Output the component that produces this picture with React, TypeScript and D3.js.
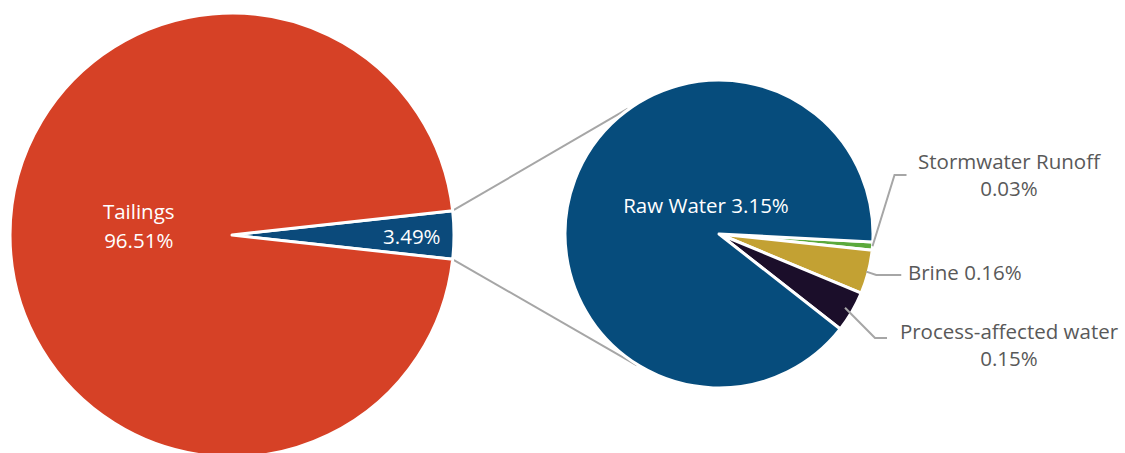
import React from "react";
import * as d3 from "d3";

const mainCategories = ["Other", "Tailings"];
const mainValues = [3.49, 96.51];
const mainColors = ["#0B4A7B", "#D64126"];

const subCategories = ["Stormwater Runoff", "Brine", "Process-affected water", "Raw Water"];
const subValues = [0.03, 0.16, 0.15, 3.15];
const subColors = ["#5BA93C", "#C3A133", "#1B0E2A", "#064C7C"];

const W = 1125;
const H = 453;
const FONT = "'Open Sans', sans-serif";
const FS = 20.5;
const GRAY = "#595959";
const LINE = "#A6A6A6";

export default function App() {
  const c1 = { x: 232, y: 235 };
  const r1 = 222;
  const c2 = { x: 719, y: 234 };
  const r2 = 154;

  const otherFrac = mainValues[0] / d3.sum(mainValues);
  const half = Math.PI * otherFrac;
  const mainPie = d3
    .pie<number>()
    .sort(null)
    .startAngle(Math.PI / 2 - half)
    .endAngle(Math.PI / 2 - half + 2 * Math.PI);
  const mainArcs = mainPie(mainValues);
  const arc1 = d3.arc<d3.PieArcDatum<number>>().innerRadius(0).outerRadius(r1);

  const subStart = Math.PI / 2 + (3 * Math.PI) / 180;
  const subPie = d3
    .pie<number>()
    .sort(null)
    .startAngle(subStart)
    .endAngle(subStart + 2 * Math.PI);
  const subArcs = subPie(subValues);
  const arc2 = d3.arc<d3.PieArcDatum<number>>().innerRadius(0).outerRadius(r2);

  const pt = (c: { x: number; y: number }, r: number, a: number) => ({
    x: c.x + r * Math.sin(a),
    y: c.y - r * Math.cos(a),
  });

  const blue = mainArcs[0];
  const p1 = pt(c1, r1, blue.startAngle);
  const p2 = pt(c1, r1, blue.endAngle);
  const q1 = pt(c2, r2 + 1, (-36 * Math.PI) / 180);
  const q2 = pt(c2, r2 + 1, (212 * Math.PI) / 180);

  const mid = (d: d3.PieArcDatum<number>) => (d.startAngle + d.endAngle) / 2;
  const sw = pt(c2, r2, mid(subArcs[0]));
  const br = pt(c2, r2 - 2, mid(subArcs[1]));
  const pr = pt(c2, r2 - 8, mid(subArcs[2]));

  const tailCentroid = pt(c1, r1 * 0.42, mid(mainArcs[1]));
  const otherLabel = pt(c1, r1 * 0.81, mid(blue));

  return (
    <svg
      width={W}
      height={H}
      style={{ position: "absolute", left: 0, top: 0, background: "#fff" }}
      fontFamily={FONT}
    >
      <line x1={p1.x} y1={p1.y} x2={q1.x} y2={q1.y} stroke={LINE} strokeWidth={2} />
      <line x1={p2.x} y1={p2.y} x2={q2.x} y2={q2.y} stroke={LINE} strokeWidth={2} />

      <g transform={`translate(${c1.x},${c1.y})`}>
        {mainArcs.map((d, i) => (
          <path key={mainCategories[i]} d={arc1(d) || ""} fill={mainColors[i]} stroke="#fff" strokeWidth={3} strokeLinejoin="round" />
        ))}
      </g>
      <g transform={`translate(${c2.x},${c2.y})`}>
        {subArcs.map((d, i) => (
          <path key={subCategories[i]} d={arc2(d) || ""} fill={subColors[i]} stroke="#fff" strokeWidth={3} strokeLinejoin="round" />
        ))}
      </g>

      <text x={tailCentroid.x} y={tailCentroid.y - 16} fill="#fff" fontSize={FS} textAnchor="middle">
        {mainCategories[1]}
      </text>
      <text x={tailCentroid.x} y={tailCentroid.y + 13} fill="#fff" fontSize={FS} textAnchor="middle">
        {mainValues[1].toFixed(2)}%
      </text>
      <text x={otherLabel.x} y={otherLabel.y + 9} fill="#fff" fontSize={FS} textAnchor="middle">
        {mainValues[0].toFixed(2)}%
      </text>

      <text x={c2.x - 13} y={c2.y - 21} fill="#fff" fontSize={FS} textAnchor="middle">
        {`${subCategories[3]} ${subValues[3].toFixed(2)}%`}
      </text>

      {/* leader lines */}
      <polyline
        points={`${sw.x},${sw.y} ${sw.x + 22},${c2.y - 59} ${sw.x + 34},${c2.y - 59}`}
        fill="none"
        stroke={LINE}
        strokeWidth={2}
      />
      <polyline
        points={`${br.x},${br.y} ${br.x + 10},${c2.y + 41} ${br.x + 35},${c2.y + 41}`}
        fill="none"
        stroke={LINE}
        strokeWidth={2}
      />
      <polyline
        points={`${pr.x},${pr.y} ${pr.x + 30},${c2.y + 104} ${pr.x + 42},${c2.y + 104}`}
        fill="none"
        stroke={LINE}
        strokeWidth={2}
      />

      <text x={1009} y={169} fill={GRAY} fontSize={FS} textAnchor="middle">
        {subCategories[0]}
      </text>
      <text x={1009} y={196} fill={GRAY} fontSize={FS} textAnchor="middle">
        {subValues[0].toFixed(2)}%
      </text>
      <text x={908} y={280} fill={GRAY} fontSize={FS}>
        {`${subCategories[1]} ${subValues[1].toFixed(2)}%`}
      </text>
      <text x={1009} y={339} fill={GRAY} fontSize={FS} textAnchor="middle">
        {subCategories[2]}
      </text>
      <text x={1009} y={366} fill={GRAY} fontSize={FS} textAnchor="middle">
        {subValues[2].toFixed(2)}%
      </text>
    </svg>
  );
}
